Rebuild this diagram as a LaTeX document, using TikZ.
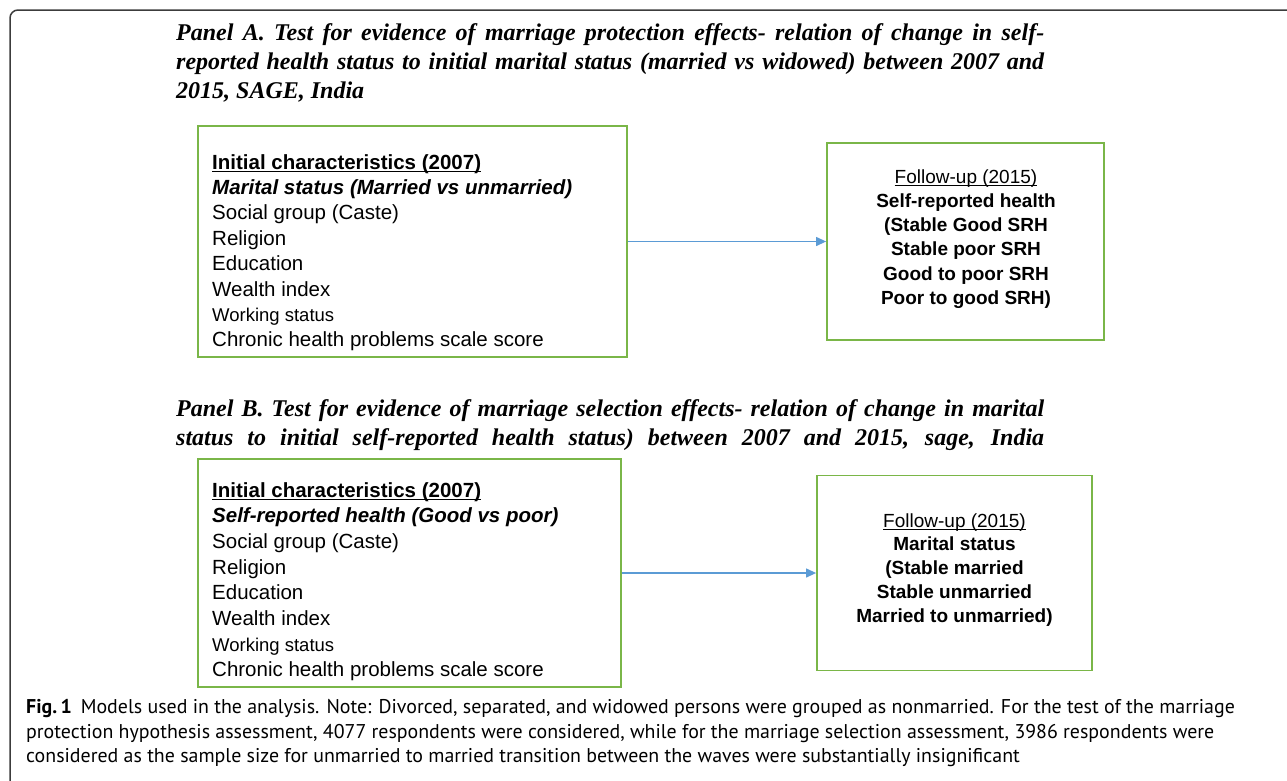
\documentclass[tikz,border=0pt]{standalone}
\usepackage{fontspec}
\setmainfont{Liberation Serif}
\newfontfamily\arialf{Liberation Sans}
\newfontfamily\capf{PT Sans}
\usetikzlibrary{arrows.meta}
\definecolor{boxgreen}{RGB}{122,182,72}
\definecolor{arrowblue}{RGB}{91,155,213}
\definecolor{framegray}{RGB}{60,60,60}
\newcommand\ulin[1]{\setbox0\hbox{#1}\rlap{\rule[-2.6pt]{\wd0}{1.1pt}}\box0}
\begin{document}
\begin{tikzpicture}[x=1pt,y=-1pt,
  boxsty/.style={draw=boxgreen, line width=1.8pt, inner sep=0pt},
  title/.style={anchor=base west, inner sep=0pt, font=\bfseries\itshape\fontsize{24}{29}\selectfont},
  lt/.style={anchor=base west, inner sep=0pt, font=\arialf\fontsize{20.5}{24}\selectfont},
  ct/.style={anchor=base, inner sep=0pt, font=\arialf\bfseries\fontsize{19}{24}\selectfont},
  capsty/.style={anchor=base west, inner sep=0pt, font=\capf\fontsize{19.9}{25}\selectfont},
  arrowsty/.style={draw=arrowblue, line width=1.2pt, -{Triangle[length=10pt,width=9pt]}}]
\useasboundingbox (0,0) rectangle (1287,780);
\draw[framegray, line width=1.5pt, rounded corners=8pt] (1292,10) -- (10,10) -- (10,785);

% Panel A title
\node[title] (pa1) at (176,40) {\makebox[868pt][s]{Panel A. Test for evidence of marriage protection effects- relation of change in self-}};
\node[title] (pa2) at (176,69) {\makebox[868pt][s]{reported health status to initial marital status (married vs widowed) between 2007 and}};
\node[title] (pa3) at (176,98) {2015, SAGE, India};

% Panel A boxes
\node[boxsty, minimum width=429pt, minimum height=231pt] (a1) at (412.5,241.5) {};
\node[boxsty, minimum width=277pt, minimum height=197pt] (a2) at (965.5,241.5) {};
\draw[arrowsty] (a1) -- (a2);

\node[lt] (a1l1) at (212,169) {\bfseries\ulin{Initial characteristics (2007)}};
\node[lt] (a1l2) at (212,194.4) {\bfseries\itshape Marital status (Married vs unmarried)};
\node[lt] (a1l3) at (212,219.8) {Social group (Caste)};
\node[lt] (a1l4) at (212,245.2) {Religion};
\node[lt] (a1l5) at (212,270.6) {Education};
\node[lt] (a1l6) at (212,296) {Wealth index};
\node[lt, font=\arialf\fontsize{18.5}{24}\selectfont] (a1l7) at (212,321.4) {Working status};
\node[lt] (a1l8) at (212,346.8) {Chronic health problems scale score};

\node[ct] (a2l1) at (966,183) {\mdseries\ulin{Follow-up (2015)}};
\node[ct] (a2l2) at (966,207) {Self-reported health};
\node[ct] (a2l3) at (966,231.5) {(Stable Good SRH};
\node[ct] (a2l4) at (966,255.5) {Stable poor SRH};
\node[ct] (a2l5) at (966,280) {Good to poor SRH};
\node[ct] (a2l6) at (966,304) {Poor to good SRH)};

% Panel B title
\node[title] (pb1) at (176,416) {\makebox[868pt][s]{Panel B. Test for evidence of marriage selection effects- relation of change in marital}};
\node[title] (pb2) at (176,445) {\makebox[868pt][s]{status to initial self-reported health status) between 2007 and 2015, sage, India}};

% Panel B boxes
\node[boxsty, minimum width=423pt, minimum height=228pt] (b1) at (409.5,573) {};
\node[boxsty, minimum width=275pt, minimum height=195pt] (b2) at (954.5,573) {};
\draw[arrowsty] (b1) -- (b2);

\node[lt] (b1l1) at (212,497) {\bfseries\ulin{Initial characteristics (2007)}};
\node[lt] (b1l2) at (212,522.7) {\bfseries\itshape Self-reported health (Good vs poor)};
\node[lt] (b1l3) at (212,548.4) {Social group (Caste)};
\node[lt] (b1l4) at (212,574.1) {Religion};
\node[lt] (b1l5) at (212,599.8) {Education};
\node[lt] (b1l6) at (212,625.5) {Wealth index};
\node[lt, font=\arialf\fontsize{18.5}{24}\selectfont] (b1l7) at (212,651.2) {Working status};
\node[lt] (b1l8) at (212,676.9) {Chronic health problems scale score};

\node[ct] (b2l1) at (954.5,527) {\mdseries\ulin{Follow-up (2015)}};
\node[ct] (b2l2) at (954.5,550.5) {Marital status};
\node[ct] (b2l3) at (954.5,574.5) {(Stable married};
\node[ct] (b2l4) at (954.5,598) {Stable unmarried};
\node[ct] (b2l5) at (954.5,622) {Married to unmarried)};

% Caption
\node[capsty] (c1) at (26,713) {{\bfseries Fig.\,1}\hspace{9pt}Models used in the analysis. Note: Divorced, separated, and widowed persons were grouped as nonmarried. For the test of the marriage};
\node[capsty] (c2) at (26,738) {protection hypothesis assessment, 4077 respondents were considered, while for the marriage selection assessment, 3986 respondents were};
\node[capsty] (c3) at (26,762.5) {considered as the sample size for unmarried to married transition between the waves were substantially insignificant};
\end{tikzpicture}
\end{document}
